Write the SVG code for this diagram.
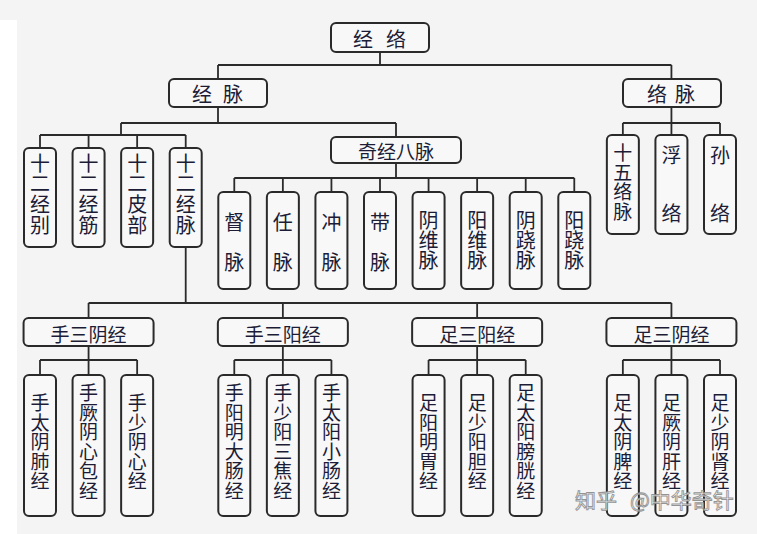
<svg xmlns="http://www.w3.org/2000/svg" width="757" height="534" viewBox="0 0 757 534">
<style>
.b{fill:#f8f8f8;stroke:#2a2a2a;stroke-width:2}
.t{font-family:"Noto Sans CJK SC","Noto Sans",sans-serif;font-size:20px;fill:#1c1c36;text-anchor:middle;dominant-baseline:central}
.s{font-size:19px}
.v{writing-mode:vertical-rl;text-orientation:upright}
.v4{letter-spacing:0.7px}
.v5{font-size:19px;letter-spacing:0.5px}
.g2{letter-spacing:20px}
.g3{letter-spacing:38px}
.c{fill:none;stroke:#2a2a2a;stroke-width:1.8}
.w{font-family:"Noto Sans CJK SC",sans-serif;font-size:21px;fill:#ffffff;stroke:#8a8a8a;stroke-width:0.9;opacity:0.9}
</style>
<rect x="0" y="0" width="757" height="534" fill="#f4f4f4"/>
<rect x="0" y="20" width="17" height="514" fill="#ffffff"/>

<g id="connectors" class="c">
<path d="M380 52V65M218 65H671.43M218 65V79M671.43 65V79"/>
<path d="M218 107V123M121 123H396M121 123V135M40 135H185.71M40 135V148M88.57 135V148M137.14 135V148M185.71 135V148M396 123V137"/>
<path d="M396 163V178M234.29 178H574.29M234.29 178V192M282.86 178V192M331.43 178V192M380 178V192M428.57 178V192M477.14 178V192M525.71 178V192M574.29 178V192"/>
<path d="M671.43 107V135M622.86 123H720M622.86 123V135M720 123V135"/>
<path d="M185.71 247V303M88.57 303H671.43M88.57 303V318M282.86 303V318M477.14 303V318M671.43 303V318"/>
<path d="M88.57 346V360M40 360H137.14M40 360V375M88.57 360V375M137.14 360V375"/>
<path d="M282.86 346V360M234.29 360H331.43M234.29 360V375M282.86 360V375M331.43 360V375"/>
<path d="M477.14 346V360M428.57 360H525.71M428.57 360V375M477.14 360V375M525.71 360V375"/>
<path d="M671.43 346V360M622.86 360H720M622.86 360V375M671.43 360V375M720 360V375"/>
</g>

<g id="n-jingluo"><rect class="b" x="331" y="23" width="98" height="29" rx="5"/><text class="t"><tspan x="363" y="37.5">经</tspan><tspan x="396" y="37.5">络</tspan></text></g>
<g id="n-jingmai"><rect class="b" x="169" y="79" width="98" height="28" rx="5"/><text class="t"><tspan x="202" y="93">经</tspan><tspan x="233" y="93">脉</tspan></text></g>
<g id="n-luomai"><rect class="b" x="623" y="79" width="98" height="28" rx="5"/><text class="t"><tspan x="657" y="93">络</tspan><tspan x="685" y="93">脉</tspan></text></g>
<g id="n-qijing"><rect class="b" x="331" y="137" width="130" height="26" rx="5"/><text class="t s" x="396" y="150">奇经八脉</text></g>

<g id="n-shierjingbie"><rect class="b" x="24" y="148" width="32" height="99" rx="5"/><text class="t v v4" x="40" y="194.4">十二经别</text></g>
<g id="n-shierjingjin"><rect class="b" x="72.57" y="148" width="32" height="99" rx="5"/><text class="t v v4" x="88.57" y="194.4">十二经筋</text></g>
<g id="n-shierpibu"><rect class="b" x="121.14" y="148" width="32" height="99" rx="5"/><text class="t v v4" x="137.14" y="194.4">十二皮部</text></g>
<g id="n-shierjingmai"><rect class="b" x="169.71" y="148" width="32" height="99" rx="5"/><text class="t v v4" x="185.71" y="194.4">十二经脉</text></g>

<g id="n-dumai"><rect class="b" x="218.29" y="192" width="32" height="97" rx="5"/><text class="t v g2" x="234.29" y="252">督脉</text></g>
<g id="n-renmai"><rect class="b" x="266.86" y="192" width="32" height="97" rx="5"/><text class="t v g2" x="282.86" y="252">任脉</text></g>
<g id="n-chongmai"><rect class="b" x="315.43" y="192" width="32" height="97" rx="5"/><text class="t v g2" x="331.43" y="252">冲脉</text></g>
<g id="n-daimai"><rect class="b" x="364" y="192" width="32" height="97" rx="5"/><text class="t v g2" x="380" y="252">带脉</text></g>
<g id="n-yinwei"><rect class="b" x="412.57" y="192" width="32" height="97" rx="5"/><text class="t v" x="428.57" y="240">阴维脉</text></g>
<g id="n-yangwei"><rect class="b" x="461.14" y="192" width="32" height="97" rx="5"/><text class="t v" x="477.14" y="240">阳维脉</text></g>
<g id="n-yinqiao"><rect class="b" x="509.71" y="192" width="32" height="97" rx="5"/><text class="t v" x="525.71" y="240">阴跷脉</text></g>
<g id="n-yangqiao"><rect class="b" x="558.29" y="192" width="32" height="97" rx="5"/><text class="t v" x="574.29" y="240">阳跷脉</text></g>

<g id="n-shiwuluomai"><rect class="b" x="606.86" y="135" width="32" height="99" rx="5"/><text class="t v v5" x="622.86" y="182.5">十五络脉</text></g>
<g id="n-fuluo"><rect class="b" x="655.43" y="135" width="32" height="99" rx="5"/><text class="t v g3" x="671.43" y="203">浮络</text></g>
<g id="n-sunluo"><rect class="b" x="704" y="135" width="32" height="99" rx="5"/><text class="t v g3" x="720" y="203">孙络</text></g>

<g id="n-shousanyin"><rect class="b" x="23.57" y="318" width="130" height="28" rx="5"/><text class="t s" x="88.57" y="333">手三阴经</text></g>
<g id="n-shousanyang"><rect class="b" x="217.86" y="318" width="130" height="28" rx="5"/><text class="t s" x="282.86" y="333">手三阳经</text></g>
<g id="n-zusanyang"><rect class="b" x="412.14" y="318" width="130" height="28" rx="5"/><text class="t s" x="477.14" y="333">足三阳经</text></g>
<g id="n-zusanyin"><rect class="b" x="606.43" y="318" width="130" height="28" rx="5"/><text class="t s" x="671.43" y="333">足三阴经</text></g>

<g id="n-shoutaiyin"><rect class="b" x="24" y="375" width="32" height="141" rx="5"/><text class="t v v5" x="40" y="442.25">手太阴肺经</text></g>
<g id="n-shoujueyin"><rect class="b" x="72.57" y="375" width="32" height="141" rx="5"/><text class="t v v5" x="88.57" y="442.25">手厥阴心包经</text></g>
<g id="n-shoushaoyin"><rect class="b" x="121.14" y="375" width="32" height="141" rx="5"/><text class="t v v5" x="137.14" y="442.25">手少阴心经</text></g>

<g id="n-shouyangming"><rect class="b" x="218.29" y="375" width="32" height="141" rx="5"/><text class="t v v5" x="234.29" y="442.25">手阳明大肠经</text></g>
<g id="n-shoushaoyang"><rect class="b" x="266.86" y="375" width="32" height="141" rx="5"/><text class="t v v5" x="282.86" y="442.25">手少阳三焦经</text></g>
<g id="n-shoutaiyang"><rect class="b" x="315.43" y="375" width="32" height="141" rx="5"/><text class="t v v5" x="331.43" y="442.25">手太阳小肠经</text></g>

<g id="n-zuyangming"><rect class="b" x="412.57" y="375" width="32" height="141" rx="5"/><text class="t v v5" x="428.57" y="442.25">足阳明胃经</text></g>
<g id="n-zushaoyang"><rect class="b" x="461.14" y="375" width="32" height="141" rx="5"/><text class="t v v5" x="477.14" y="442.25">足少阳胆经</text></g>
<g id="n-zutaiyang"><rect class="b" x="509.71" y="375" width="32" height="141" rx="5"/><text class="t v v5" x="525.71" y="442.25">足太阳膀胱经</text></g>

<g id="n-zutaiyin"><rect class="b" x="606.86" y="375" width="32" height="141" rx="5"/><text class="t v v5" x="622.86" y="442.25">足太阴脾经</text></g>
<g id="n-zujueyin"><rect class="b" x="655.43" y="375" width="32" height="141" rx="5"/><text class="t v v5" x="671.43" y="442.25">足厥阴肝经</text></g>
<g id="n-zushaoyin"><rect class="b" x="704" y="375" width="32" height="141" rx="5"/><text class="t v v5" x="720" y="442.25">足少阴肾经</text></g>

<text class="w" y="508"><tspan x="575">知乎 </tspan><tspan x="630">@中华奇针</tspan></text>
</svg>
